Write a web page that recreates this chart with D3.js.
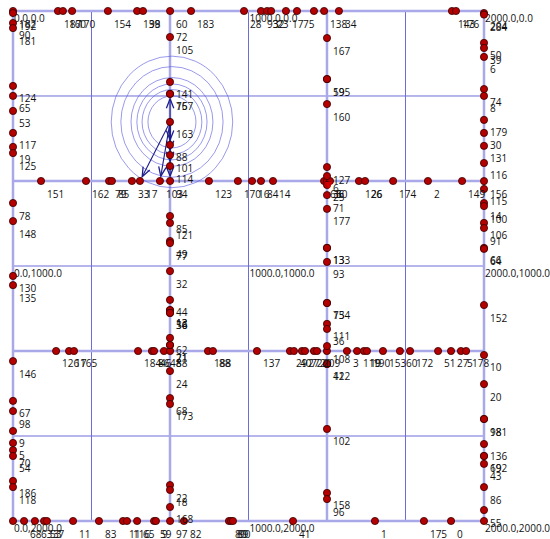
<!DOCTYPE html>
<html>
<head>
<meta charset="utf-8">
<script src="https://cdn.jsdelivr.net/npm/d3@7/dist/d3.min.js"></script>
<style>
  html, body { margin: 0; padding: 0; background: #fff; }
  svg { display: block; }
  text { font-family: "Open Sans", sans-serif; font-size: 10px; fill: #111; }
</style>
</head>
<body>
<svg id="chart" width="550" height="539"></svg>
<script>
// ---- world extent & grid -------------------------------------------------
const extent = [0, 2000];
const gridSteps = [0, 333.33, 666.67, 1000, 1333.33, 1666.67, 2000];
const roadLines = [0, 666.67, 1333.33, 2000];
const cornerMarks = [0, 1000, 2000];

// ---- stops, grouped by the road they sit on (world coordinates) -----------
// left road, x = 0
const leftY   = [0, 8, 47, 67, 294, 333, 392, 478, 533, 557, 753, 824, 1039, 1075, 1373, 1529, 1569, 1647, 1694, 1722, 1745, 1843, 1867, 2000];
const leftIds = ["182", "192", "90", "181", "124", "65", "53", "117", "19", "125", "78", "148", "130", "135", "146", "67", "98", "9", "5", "70", "54", "186", "118", ""];

// top road, y = 0
const topX   = [191, 212, 251, 403, 527, 552, 667, 756, 981, 1053, 1079, 1096, 1159, 1206, 1278, 1321, 1384, 1864, 1881];
const topIds = ["187", "160", "170", "154", "139", "98", "60", "183", "28", "93", "32", "23", "17", "75", "", "138", "34", "143", "176"];

// right road, x = 2000
const rightY   = [8, 14, 125, 145, 180, 306, 333, 427, 478, 529, 596, 667, 698, 753, 765, 831, 851, 929, 933, 1153, 1349, 1463, 1600, 1600, 1698, 1745, 1745, 1776, 1867, 1957, 2000];
const rightIds = ["204", "284", "50", "39", "6", "74", "8", "179", "30", "131", "116", "156", "115", "14", "100", "106", "91", "66", "64", "152", "10", "20", "98", "181", "136", "69", "192", "43", "86", "55", ""];

// upper cross road, y = 666.67
const rowAX   = [119, 310, 408, 420, 505, 539, 624, 667, 832, 955, 1015, 1053, 1104, 1321, 1333, 1346, 1469, 1495, 1614, 1762, 1907];
const rowAIds = ["151", "162", "79", "85", "33", "17", "103", "94", "123", "170", "16", "84", "14", "63", "36", "60", "126", "26", "174", "2", "149"];

// lower cross road, y = 1333.33
const rowBX   = [183, 238, 259, 531, 590, 599, 641, 667, 828, 849, 1036, 1176, 1193, 1227, 1240, 1278, 1291, 1333, 1418, 1461, 1490, 1503, 1571, 1643, 1686, 1805, 1860, 1902, 1924];
const rowBIds = ["126", "17", "165", "184", "86", "46", "48", "88", "188", "88", "137", "29", "40", "27", "72", "20", "209", "", "3", "119", "19", "190", "153", "60", "172", "51", "27", "5", "178"];

// bottom road, y = 2000
const bottomX   = [47, 93, 132, 144, 255, 365, 467, 484, 527, 599, 607, 667, 726, 917, 926, 934, 1189, 1537, 1745, 1860];
const bottomIds = ["68", "63", "53", "37", "11", "83", "11", "116", "65", "59", "9", "97", "82", "80", "89", "90", "41", "1", "175", "0"];

// left cross road, x = 666.67
const colAY   = [102, 278, 325, 325, 435, 525, 565, 608, 804, 831, 902, 910, 1020, 1133, 1173, 1173, 1184, 1184, 1282, 1310, 1310, 1412, 1518, 1541, 1859, 1878, 1945];
const colAIds = ["105", "141", "76", "157", "163", "88", "101", "114", "85", "121", "49", "77", "32", "44", "12", "13", "56", "36", "62", "21", "71", "24", "68", "173", "22", "18", "168"];

// right cross road, x = 1333.33
const colBY   = [106, 267, 267, 365, 612, 647, 682, 722, 776, 929, 929, 984, 1145, 1145, 1227, 1247, 1314, 1384, 1384, 1639, 1890, 1914];
const colBIds = ["167", "59", "195", "160", "127", "6", "25", "71", "177", "133", "13", "93", "75", "134", "111", "36", "108", "42", "112", "102", "158", "96"];

// a label whose stop lies hidden under the road
const tagText = ["72"];
const tagX = [667];
const tagY = [51];

// ---- directed links out of the hub stop ------------------------------------
const hub = [667, 435];
const linkTargetX = [667, 539, 624, 667, 667, 667, 667];
const linkTargetY = [325, 667, 667, 667, 525, 565, 608];

// ---- coverage rings round the hub (world radius) --------------------------
const ringCenter = [675, 435];
const ringRadius = [102, 127, 149, 174, 217, 258];

// ---- special stop marker --------------------------------------------------
const flagPoint = [1340, 680];

// -------------------------------------------------------------------------
const stops = [];
const addStops = (xs, ys, ids) => ids.forEach((id, i) => stops.push({ x: xs[i], y: ys[i], id }));
addStops(leftY.map(() => 0), leftY, leftIds);
addStops(topX, topX.map(() => 0), topIds);
addStops(rightY.map(() => 2000), rightY, rightIds);
addStops(rowAX, rowAX.map(() => 666.67), rowAIds);
addStops(rowBX, rowBX.map(() => 1333.33), rowBIds);
addStops(bottomX, bottomX.map(() => 2000), bottomIds);
addStops(colAY.map(() => 666.67), colAY, colAIds);
addStops(colBY.map(() => 1333.33), colBY, colBIds);

const svg = d3.select("#chart");
const x = d3.scaleLinear().domain(extent).range([13, 484]);
const y = d3.scaleLinear().domain(extent).range([11, 521]);

// thin grid
svg.append("g").selectAll("line").data(gridSteps).join("line")
  .attr("x1", d => x(d)).attr("x2", d => x(d))
  .attr("y1", y(extent[0])).attr("y2", y(extent[1]))
  .attr("stroke", "#6d6dd8").attr("stroke-width", 1);
svg.append("g").selectAll("line").data(gridSteps).join("line")
  .attr("y1", d => y(d)).attr("y2", d => y(d))
  .attr("x1", x(extent[0])).attr("x2", x(extent[1]))
  .attr("stroke", "#6d6dd8").attr("stroke-width", 1);

// roads
svg.append("g").selectAll("line").data(roadLines).join("line")
  .attr("x1", d => x(d)).attr("x2", d => x(d))
  .attr("y1", y(extent[0])).attr("y2", y(extent[1]))
  .attr("stroke", "#a9a9ea").attr("stroke-width", 2.5);
svg.append("g").selectAll("line").data(roadLines).join("line")
  .attr("y1", d => y(d)).attr("y2", d => y(d))
  .attr("x1", x(extent[0])).attr("x2", x(extent[1]))
  .attr("stroke", "#a9a9ea").attr("stroke-width", 2.5);

// rings
svg.append("g").selectAll("ellipse").data(ringRadius).join("ellipse")
  .attr("cx", x(ringCenter[0])).attr("cy", y(ringCenter[1]))
  .attr("rx", d => x(d) - x(0)).attr("ry", d => y(d) - y(0))
  .attr("fill", "none").attr("stroke", "#5b5be0").attr("stroke-opacity", 0.62).attr("stroke-width", 1);

// corner coordinate labels
const corners = [];
cornerMarks.forEach(cy => cornerMarks.forEach(cx => corners.push([cx, cy])));
svg.append("g").selectAll("text").data(corners).join("text")
  .attr("x", d => x(d[0]) + 1).attr("y", d => y(d[1]) + 7)
  .attr("dy", "0.35em")
  .text(d => d[0].toFixed(1) + "," + d[1].toFixed(1));

// links with open arrowheads
const linkG = svg.append("g").attr("stroke", "#1e1e8c").attr("fill", "none").attr("stroke-width", 1.1);
linkTargetX.forEach((tX, i) => {
  const x1 = x(hub[0]), y1 = y(hub[1]), x2 = x(tX), y2 = y(linkTargetY[i]);
  const ang = Math.atan2(y2 - y1, x2 - x1);
  const tx = x2 - Math.cos(ang) * 5, ty = y2 - Math.sin(ang) * 5;
  linkG.append("line").attr("x1", x1).attr("y1", y1).attr("x2", tx).attr("y2", ty);
  const L = 10, spread = 0.38;
  const p = d3.path();
  p.moveTo(tx - L * Math.cos(ang - spread), ty - L * Math.sin(ang - spread));
  p.lineTo(tx, ty);
  p.lineTo(tx - L * Math.cos(ang + spread), ty - L * Math.sin(ang + spread));
  linkG.append("path").attr("d", p.toString()).attr("stroke-width", 1.3);
});

// stops
svg.append("g").selectAll("circle").data(stops).join("circle")
  .attr("cx", d => x(d.x)).attr("cy", d => y(d.y))
  .attr("r", 3.6)
  .attr("fill", "#b30000").attr("stroke", "#3a0000").attr("stroke-width", 0.8);

// special stop marker
svg.append("path")
  .attr("d", d3.symbol(d3.symbolTriangle, 30)())
  .attr("transform", `translate(${x(flagPoint[0])},${y(flagPoint[1])}) rotate(180)`)
  .attr("fill", "#d00000");

// stop id labels, just below-right of each stop
svg.append("g").selectAll("text").data(stops.filter(d => d.id !== "")).join("text")
  .attr("x", d => x(d.x) + 6).attr("y", d => y(d.y) + 13)
  .attr("dy", "0.35em")
  .text(d => d.id);
svg.append("g").selectAll("text").data(tagText).join("text")
  .attr("x", (d, i) => x(tagX[i]) + 6).attr("y", (d, i) => y(tagY[i]) + 13)
  .attr("dy", "0.35em")
  .text(d => d);
</script>
</body>
</html>
